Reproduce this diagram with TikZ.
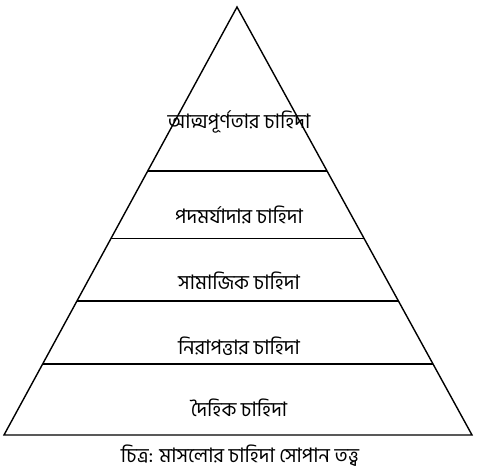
\documentclass[tikz,border=0pt]{standalone}
\usepackage{fontspec}
\newfontfamily\bnfont[Script=Bengali]{Hind Siliguri}
\usepackage{tikz}
\usetikzlibrary{calc}

\begin{document}
\begin{tikzpicture}[x=1pt,y=-1pt,every node/.style={font=\bnfont\fontsize{20}{24}\selectfont}]
      \useasboundingbox (0,0) rectangle (485,476);
      \coordinate (apex) at (237,7);
      \coordinate (bl) at (4,435);
      \coordinate (br) at (472,435);

      %%pyramid
      \draw [line width=1.4pt] (apex) -- (bl) -- (br) -- cycle;

      %%levels
      \foreach \t/\name in {0.383/l1,0.541/l2,0.687/l3,0.834/l4}
      {
        \draw [line width=1.4pt] ($(apex)!\t!(bl)$) coordinate (\name a) -- ($(apex)!\t!(br)$) coordinate (\name b);
      }

      \node (self) at (239,122) {আত্মপূর্ণতার চাহিদা};
      \node (esteem) at (239,215) {পদমর্যাদার চাহিদা};
      \node (social) at (239,281) {সামাজিক চাহিদা};
      \node (safety) at (239,346) {নিরাপত্তার চাহিদা};
      \node (body) at (239,408) {দৈহিক চাহিদা};

      \node (caption) at (240,456) {চিত্র: মাসলোর চাহিদা সোপান তত্ত্ব};
\end{tikzpicture}
\end{document}
